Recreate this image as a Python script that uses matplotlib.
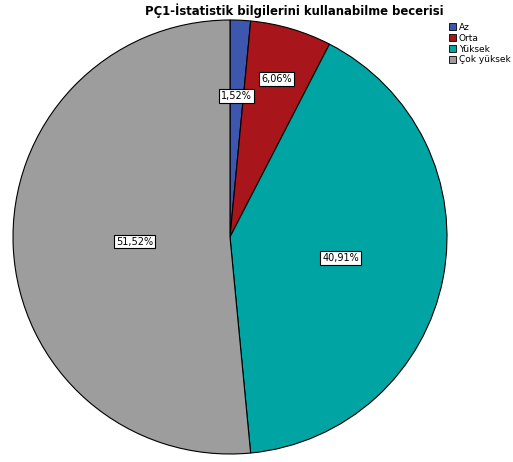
import numpy as np
import matplotlib
matplotlib.use("Agg")
import matplotlib.pyplot as plt
from matplotlib.patches import Patch

title = "PÇ1-İstatistik bilgilerini kullanabilme becerisi"
categories = ["Az", "Orta", "Yüksek", "Çok yüksek"]
percents = [1.52, 6.06, 40.91, 51.52]
colors = ["#3d57ae", "#a8151b", "#00a5a3", "#9d9d9d"]
label_r = [0.65, 0.76, 0.52, 0.44]

W, H = 513, 462
fig = plt.figure(figsize=(W / 100, H / 100), dpi=100)
cx, cy, r = 230, 237, 217
ax = fig.add_axes([(cx - r) / W, (H - cy - r) / H, 2 * r / W, 2 * r / H])
wedges, _ = ax.pie(percents, colors=colors, startangle=90, counterclock=False,
                   radius=1, wedgeprops=dict(edgecolor="black", linewidth=0.8))
ax.set_xlim(-1, 1)
ax.set_ylim(-1, 1)
ax.set_aspect("equal")
ax.axis("off")

for w, p, rr in zip(wedges, percents, label_r):
    ang = np.deg2rad((w.theta1 + w.theta2) / 2)
    ax.text(rr * np.cos(ang), rr * np.sin(ang), f"{p:.2f}%".replace(".", ","),
            ha="center", va="center", fontsize=7,
            bbox=dict(boxstyle="square,pad=0.2", fc="white", ec="black", lw=0.8))

fig.text(294 / W, 1 - 11 / H, title, ha="center", va="center",
         fontsize=8.4, fontweight="bold")

handles = [Patch(facecolor=c, edgecolor="black", linewidth=0.6) for c in colors]
fig.legend(handles, categories, loc="upper left", bbox_to_anchor=(449 / W, 1 - 23 / H),
           frameon=False, fontsize=6.5, handlelength=0.8, handleheight=0.8,
           handletextpad=0.3, labelspacing=0.2, borderaxespad=0, borderpad=0)

fig.savefig("out.png", dpi=100)
